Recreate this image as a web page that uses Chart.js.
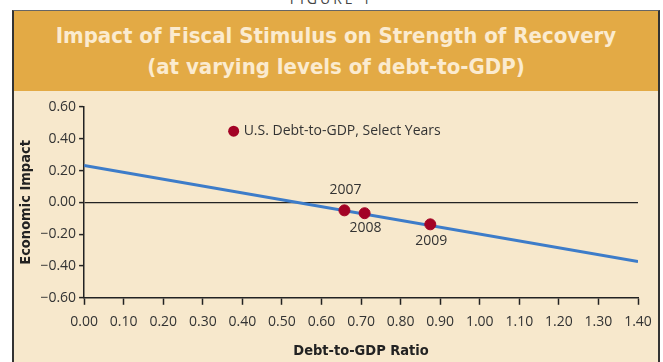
<!DOCTYPE html>
<html>
<head>
<meta charset="utf-8">
<script src="https://cdn.jsdelivr.net/npm/chart.js@4"></script>
<style>
  html, body { margin: 0; padding: 0; }
  body { width: 663px; height: 362px; overflow: hidden; background: #fff; position: relative; font-family: "Open Sans", sans-serif; }
  #fig { position: absolute; top: -11px; left: 0; width: 663px; text-align: center; font-size: 14px; letter-spacing: 3px; color: #444; }
  #frame { position: absolute; left: 12px; top: 10px; width: 644px; height: 360px; border: 2px solid #333; border-top: 1px solid #666; background: #f7e8cc; }
  #band { height: 80px; background: #e3aa45; color: #fbebcf; text-align: center; font: bold 22px "DejaVu Sans Condensed", sans-serif; line-height: 31px; box-sizing: border-box; padding-top: 9px; }
  #wrap { position: absolute; left: 0; top: 0; width: 663px; height: 362px; }
</style>
</head>
<body>
<div id="fig">FIGURE 1</div>
<div id="frame">
  <div id="band">Impact of Fiscal Stimulus on Strength of Recovery<br>(at varying levels of debt-to-GDP)</div>
</div>
<div id="wrap"><canvas id="chart" width="663" height="362"></canvas></div>
<script>
// fitted line across the debt-to-GDP range
const lineX = [0, 1.4]
const lineY = [0.232, -0.372]

// U.S. debt-to-GDP, select years
const years = ['2007', '2008', '2009']
const debtRatio = [0.658, 0.709, 0.875]
const impact = [-0.050, -0.068, -0.138]

const legendText = 'U.S. Debt-to-GDP, Select Years'

const fmt = v => v.toFixed(2).replace('-', '\u2212')
const titleFont = { family: 'DejaVu Sans Condensed', size: 14.5, weight: 'bold' }

const yearLabels = {
  id: 'yearLabels',
  afterDatasetsDraw(chart) {
    const ctx = chart.ctx
    const meta = chart.getDatasetMeta(0)
    const offsets = [-20, 15, 17]
    ctx.save()
    ctx.font = '14px "Open Sans"'
    ctx.fillStyle = '#333'
    ctx.textAlign = 'center'
    ctx.textBaseline = 'middle'
    meta.data.forEach((pt, i) => {
      ctx.fillText(years[i], pt.x + 1, pt.y + offsets[i])
    })
    // legend inside the plot
    const lx = chart.scales.x.getPixelForValue(0.378)
    const ly = chart.scales.y.getPixelForValue(0.448)
    ctx.beginPath()
    ctx.arc(lx, ly, 5.5, 0, Math.PI * 2)
    ctx.fillStyle = '#a30325'
    ctx.fill()
    ctx.fillStyle = '#333'
    ctx.textAlign = 'left'
    ctx.fillText(legendText, lx + 10, ly)
    ctx.restore()
  }
}

new Chart(document.getElementById('chart'), {
  type: 'scatter',
  data: {
    datasets: [
      {
        label: legendText,
        data: debtRatio.map((x, i) => ({x: x, y: impact[i]})),
        backgroundColor: '#a30325',
        borderColor: '#a30325',
        pointRadius: 5.5
      },
      {
        type: 'line',
        label: 'fit',
        data: lineX.map((x, i) => ({x: x, y: lineY[i]})),
        borderColor: '#3d7cc9',
        borderWidth: 3,
        pointRadius: 0,
        fill: false
      }
    ]
  },
  plugins: [yearLabels],
  options: {
    responsive: false,
    animation: false,
    layout: { padding: { left: 18, right: 25, top: 107, bottom: 2 } },
    plugins: {
      legend: { display: false },
      tooltip: { enabled: false }
    },
    scales: {
      x: {
        type: 'linear',
        min: 0,
        max: 1.4,
        border: { color: '#222', width: 1.5 },
        grid: { drawOnChartArea: false, tickLength: 7, tickColor: '#222', tickWidth: 1.5 },
        ticks: { stepSize: 0.1, callback: v => fmt(v), color: '#333', font: { family: 'Open Sans', size: 14 }, padding: 9, maxRotation: 0 },
        title: { display: true, text: 'Debt-to-GDP Ratio', color: '#222', font: titleFont, padding: { top: 3, bottom: 0 } }
      },
      y: {
        min: -0.6,
        max: 0.6,
        border: { color: '#222', width: 1.5 },
        grid: {
          color: c => (c.tick && Math.abs(c.tick.value) < 1e-9) ? '#222' : 'rgba(0,0,0,0)',
          lineWidth: 1.2,
          tickLength: 5,
          tickColor: '#222',
          tickWidth: 1.5
        },
        ticks: { stepSize: 0.2, callback: v => fmt(v), color: '#333', font: { family: 'Open Sans', size: 14 }, padding: 3 },
        title: { display: true, text: 'Economic Impact', color: '#222', font: titleFont, padding: { top: 0, bottom: 2 } }
      }
    }
  }
})
</script>
</body>
</html>
